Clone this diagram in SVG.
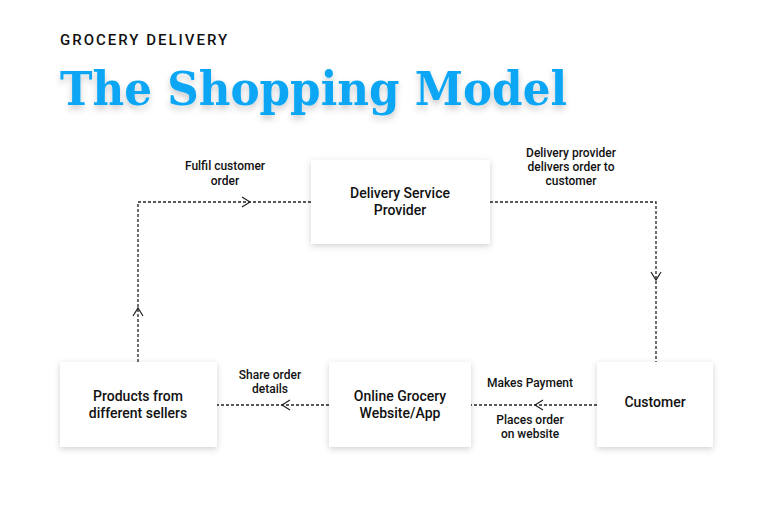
<svg xmlns="http://www.w3.org/2000/svg" xmlns:xlink="http://www.w3.org/1999/xlink" width="776" height="517" viewBox="0 0 776 517">
<defs>
<filter id="sh" x="-20%" y="-20%" width="140%" height="150%"><feDropShadow dx="0" dy="2" stdDeviation="3" flood-color="#000" flood-opacity="0.18"/></filter>
<filter id="tsh" x="-5%" y="-20%" width="110%" height="150%"><feDropShadow dx="0" dy="4" stdDeviation="3" flood-color="#000" flood-opacity="0.2"/></filter>
<path id="chev" d="M6,-5 L-2,0 L6,5" fill="none" stroke="#222" stroke-width="1.2"/>
</defs>
<style>
.box{fill:#fff;filter:url(#sh)}
.nt{font-family:Roboto,"Liberation Sans",sans-serif;font-size:14px;fill:#111;text-anchor:middle;font-weight:500}
.lt{font-family:Roboto,"Liberation Sans",sans-serif;font-size:12px;fill:#111;text-anchor:middle;font-weight:500}
.ln{fill:none;stroke:#222;stroke-width:1.3;stroke-dasharray:3,2}
</style>
<rect width="776" height="517" fill="#fff"/>
<text x="60" y="45" font-family="Roboto,'Liberation Sans',sans-serif" font-size="15" font-weight="500" letter-spacing="2" fill="#111">GROCERY DELIVERY</text>
<text x="60" y="105" font-family="'DejaVu Serif','Liberation Serif',serif" font-size="46" font-weight="bold" fill="#08a6f5" filter="url(#tsh)" textLength="507" lengthAdjust="spacingAndGlyphs">The Shopping Model</text>
<g id="connectors">
<polyline class="ln" points="138,362 138,202 311,202"/>
<polyline class="ln" points="490,202 656,202 656,362"/>
<line class="ln" x1="597" y1="405" x2="471" y2="405"/>
<line class="ln" x1="329" y1="405" x2="217" y2="405"/>
<use xlink:href="#chev" transform="translate(138,310) rotate(90)"/>
<use xlink:href="#chev" transform="translate(248,202) rotate(180)"/>
<use xlink:href="#chev" transform="translate(656,278) rotate(-90)"/>
<use xlink:href="#chev" transform="translate(537,405)"/>
<use xlink:href="#chev" transform="translate(284,405)"/>
<text class="lt" x="225" y="170">Fulfil customer</text>
<text class="lt" x="225" y="185">order</text>
<text class="lt" x="571" y="157">Delivery provider</text>
<text class="lt" x="571" y="171">delivers order to</text>
<text class="lt" x="571" y="185">customer</text>
<text class="lt" x="530" y="387">Makes Payment</text>
<text class="lt" x="530" y="424">Places order</text>
<text class="lt" x="530" y="438">on website</text>
<text class="lt" x="270" y="379">Share order</text>
<text class="lt" x="270" y="393">details</text>
</g>
<g id="dsp"><rect class="box" x="311" y="160" width="179" height="84"/><text class="nt" x="400" y="198">Delivery Service</text><text class="nt" x="400" y="215">Provider</text></g>
<g id="products"><rect class="box" x="60" y="362" width="157" height="85"/><text class="nt" x="138" y="401">Products from</text><text class="nt" x="138" y="418">different sellers</text></g>
<g id="online"><rect class="box" x="329" y="362" width="142" height="85"/><text class="nt" x="400" y="401">Online Grocery</text><text class="nt" x="400" y="418">Website/App</text></g>
<g id="customer"><rect class="box" x="597" y="362" width="116" height="85"/><text class="nt" x="655" y="407">Customer</text></g>
</svg>
